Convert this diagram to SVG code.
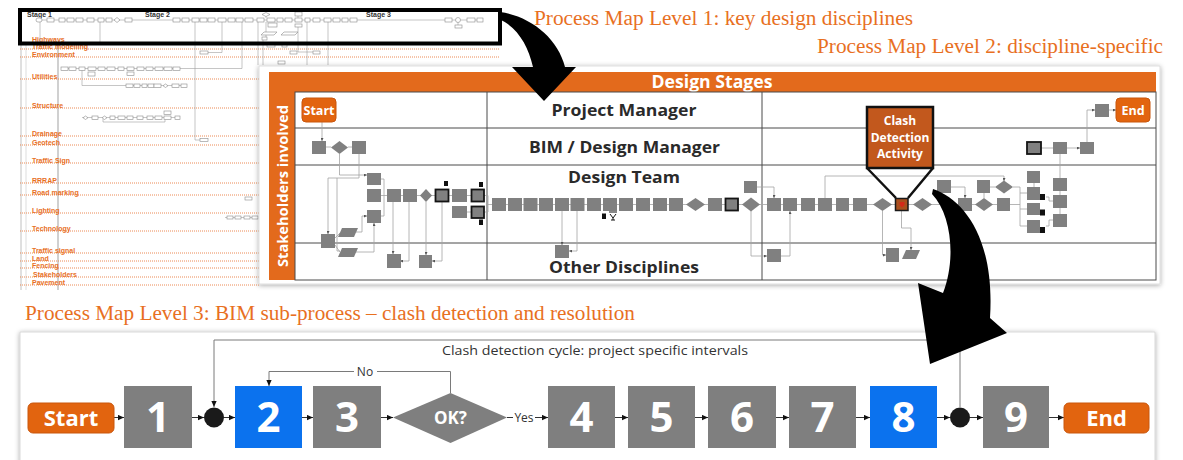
<svg xmlns="http://www.w3.org/2000/svg" width="1183" height="460" viewBox="0 0 1183 460">
<defs>
<style>
.t1 { font-family: "Liberation Serif", serif; fill: #e8701f; font-size: 20.5px; }
.l1lab { font-family: "Liberation Sans", sans-serif; font-weight: bold; font-size: 7px; fill: #e8701f; }
.l1st { font-family: "Liberation Sans", sans-serif; font-weight: bold; font-size: 7px; fill: #333; }
.dl { stroke: #ec8a55; stroke-width: 1; stroke-dasharray: 1 1; fill: none; }
.mb { fill: #fff; stroke: #8a8a8a; stroke-width: 0.6; }
.ml { fill: none; stroke: #a0a0a0; stroke-width: 0.6; }
.lane2 { font-family: "Open Sans", "Noto Sans", sans-serif; font-weight: bold; font-size: 16.5px; fill: #2a2a2a; text-anchor: middle; }
.wb { font-family: "Open Sans", "Noto Sans", sans-serif; font-weight: bold; fill: #fff; text-anchor: middle; }
.g2 { fill: #808080; }
.g2t { fill: #808080; stroke: #141414; stroke-width: 1.8; }
.doc { fill: #111; }
.c2 { fill: none; stroke: #a3a3a3; stroke-width: 0.8; }
.grid { stroke: #4a4a4a; stroke-width: 1; fill: none; }
.g3 { fill: #7f7f7f; }
.b3 { fill: #0b72ee; }
.num { font-family: "Open Sans", "Noto Sans", sans-serif; font-weight: bold; font-size: 42px; fill: #fff; text-anchor: middle; }
.c3 { fill: none; stroke: #333; stroke-width: 1; }
.c3l { fill: none; stroke: #7a7a7a; stroke-width: 1; }
.lbl3 { font-family: "Open Sans", "Noto Sans", sans-serif; font-size: 12px; fill: #333; }
.orn { fill: #e2640f; stroke: #c9560d; stroke-width: 1; }
</style>
<marker id="a2" viewBox="0 0 4 4" refX="4" refY="2" markerWidth="3" markerHeight="3" orient="auto" markerUnits="userSpaceOnUse"><path d="M0,0 L4,2 L0,4 z" fill="#555"/></marker>
<marker id="a3" viewBox="0 0 8 8" refX="8" refY="4" markerWidth="6" markerHeight="6" orient="auto" markerUnits="userSpaceOnUse"><path d="M0,0.5 L8,4 L0,7.5 z" fill="#111"/></marker>
<filter id="sh" x="-3%" y="-8%" width="106%" height="116%"><feDropShadow dx="0" dy="1" stdDeviation="2.5" flood-color="#000" flood-opacity="0.35"/></filter>
</defs>
<rect width="1183" height="460" fill="#fff"/>

<!-- ===== Level 1 map (thumbnail) ===== -->
<g id="level1-map">
  <line x1="21" y1="44" x2="21" y2="290" stroke="#b0b0b0" stroke-width="0.8"/>
  <line x1="26" y1="44" x2="26" y2="290" stroke="#c8c8c8" stroke-width="0.6"/>
  <line x1="58" y1="42" x2="58" y2="290" stroke="#d0d0d0" stroke-width="2"/>
  <g id="l1-lanes">
    <line class="dl" x1="20" y1="49" x2="500" y2="49"/>
    <line class="dl" x1="20" y1="57" x2="500" y2="57"/>
    <line class="dl" x1="20" y1="79" x2="260" y2="79"/>
    <line class="dl" x1="20" y1="108" x2="260" y2="108"/>
    <line class="dl" x1="20" y1="136" x2="260" y2="136"/>
    <line class="dl" x1="20" y1="145" x2="260" y2="145"/>
    <line class="dl" x1="20" y1="163" x2="260" y2="163"/>
    <line class="dl" x1="20" y1="183" x2="260" y2="183"/>
    <line class="dl" x1="20" y1="195" x2="260" y2="195"/>
    <line class="dl" x1="20" y1="213" x2="260" y2="213"/>
    <line class="dl" x1="20" y1="231" x2="260" y2="231"/>
    <line class="dl" x1="20" y1="253" x2="260" y2="253"/>
    <line class="dl" x1="20" y1="261" x2="260" y2="261"/>
    <line class="dl" x1="20" y1="268" x2="260" y2="268"/>
    <line class="dl" x1="20" y1="277" x2="260" y2="277"/>
    <line class="dl" x1="20" y1="285" x2="260" y2="285"/>
  </g>
  <g id="l1-labels">
    <text class="l1lab" x="32" y="41.5">Highways</text>
    <text class="l1lab" x="32" y="48.5">Traffic modelling</text>
    <text class="l1lab" x="32" y="56.5">Environment</text>
    <text class="l1lab" x="32" y="78.5">Utilities</text>
    <text class="l1lab" x="32" y="107.5">Structure</text>
    <text class="l1lab" x="32" y="135.5">Drainage</text>
    <text class="l1lab" x="32" y="144.5">Geotech</text>
    <text class="l1lab" x="32" y="162.5">Traffic Sign</text>
    <text class="l1lab" x="32" y="182.5">RRRAP</text>
    <text class="l1lab" x="32" y="194.5">Road marking</text>
    <text class="l1lab" x="32" y="212.5">Lighting</text>
    <text class="l1lab" x="32" y="230.5">Technology</text>
    <text class="l1lab" x="32" y="252.5">Traffic signal</text>
    <text class="l1lab" x="32" y="260.5">Land</text>
    <text class="l1lab" x="32" y="267.5">Fencing</text>
    <text class="l1lab" x="33" y="276.5">Stakeholders</text>
    <text class="l1lab" x="32" y="284.5">Pavement</text>
    <text class="l1st" x="27" y="16.5">Stage 1</text>
    <text class="l1st" x="145" y="16.5">Stage 2</text>
    <text class="l1st" x="366" y="16.5">Stage 3</text>
  </g>
  <g id="l1-flow">
    <path class="ml" d="M36,20 H480 M40,22 V42 M100,22 V42 M195,22 V140 H200 M222,22 V52.5 H208 M242,22 V68.5 H61 M258,22 V65 M263,40 V65 M298,27 V52 H313 M307,22 V65 M328,22 V65 M266,22 V37 M82,70 V85.5 H187 M82,117.5 H180 M103,119 V122 H165 V119.5 M225,217.5 H258 M266,16 V18 M298,16 V18 M458,22 V25"/>
    <rect class="mb" x="36" y="18" width="6" height="4" rx="2"/>
    <rect class="mb" x="47" y="18" width="7" height="4"/>
    <rect class="mb" x="59" y="18" width="6" height="4"/>
    <rect class="mb" x="67" y="18" width="7" height="4"/>
    <rect class="mb" x="76" y="18" width="7" height="4"/>
    <rect class="mb" x="87" y="18" width="7" height="4"/>
    <rect class="mb" x="98" y="18" width="6" height="4"/>
    <rect class="mb" x="106" y="18" width="6" height="4"/>
    <polygon class="mb" points="114,20 117,17.5 120,20 117,22.5"/>
    <rect class="mb" x="125" y="18" width="7" height="4"/>
    <rect class="mb" x="173" y="18" width="7" height="4"/>
    <rect class="mb" x="182" y="18" width="7" height="4"/>
    <rect class="mb" x="192" y="18" width="7" height="4"/>
    <rect class="mb" x="200" y="18" width="7" height="4"/>
    <rect class="mb" x="208" y="18" width="7" height="4"/>
    <rect class="mb" x="218" y="18" width="8" height="4"/>
    <rect class="mb" x="228" y="18" width="7" height="4"/>
    <rect class="mb" x="236" y="18" width="7" height="4"/>
    <rect class="mb" x="245" y="18" width="8" height="4"/>
    <rect class="mb" x="257" y="18" width="7" height="4"/>
    <rect class="mb" x="267" y="18" width="8" height="4"/>
    <rect class="mb" x="277" y="18" width="6" height="4"/>
    <rect class="mb" x="285" y="18" width="7" height="4"/>
    <rect class="mb" x="295" y="18" width="7" height="4"/>
    <rect class="mb" x="305" y="18" width="5" height="4"/>
    <rect class="mb" x="313" y="18" width="7" height="4"/>
    <rect class="mb" x="324" y="18" width="7" height="4"/>
    <rect class="mb" x="333" y="18" width="7" height="4"/>
    <rect class="mb" x="342" y="18" width="6" height="4"/>
    <rect class="mb" x="350" y="18" width="7" height="4"/>
    <rect class="mb" x="445" y="18" width="7" height="4"/>
    <circle class="mb" cx="458" cy="20" r="2.5"/>
    <rect class="mb" x="467" y="18" width="8" height="4"/>
    <rect class="mb" x="477" y="18" width="6" height="4"/>
    <polygon class="mb" points="262,14.5 266,12.5 270,14.5 266,16.5"/>
    <rect class="mb" x="295" y="12" width="7" height="4"/>
    <rect class="mb" x="295" y="24" width="7" height="3"/>
    <rect class="mb" x="268" y="23" width="9" height="4"/>
    <polygon class="mb" points="261,35 264,32 277,32 274,35"/>
    <polygon class="mb" points="281,35 284,32 298,32 295,35"/>
    <rect class="mb" x="262" y="37" width="5" height="3"/>
    <rect class="mb" x="455" y="25" width="7" height="3"/>
    <rect class="mb" x="267" y="44.5" width="8" height="2.5"/>
    <rect class="mb" x="282" y="44.5" width="5" height="2.5"/>
    <rect class="mb" x="290" y="51" width="7" height="3"/>
    <rect class="mb" x="313" y="51" width="7" height="3"/>
    <rect class="mb" x="278" y="61" width="7" height="3"/>
    <rect class="mb" x="200" y="51" width="8" height="3"/>
    <rect class="mb" x="200" y="138.5" width="8" height="3"/>
    <rect class="mb" x="61" y="67" width="7" height="3.5"/>
    <rect class="mb" x="69" y="67" width="7" height="3.5"/>
    <rect class="mb" x="79" y="67" width="6" height="3.5"/>
    <rect class="mb" x="88" y="67" width="8" height="3.5"/>
    <rect class="mb" x="88" y="72" width="7" height="4"/>
    <rect class="mb" x="98" y="67" width="7" height="3.5"/>
    <rect class="mb" x="107" y="67" width="8" height="3.5"/>
    <rect class="mb" x="118" y="67" width="6" height="3.5"/>
    <rect class="mb" x="127" y="67" width="7" height="3.5"/>
    <rect class="mb" x="127" y="72" width="7" height="3.5"/>
    <rect class="mb" x="137" y="67" width="7" height="3.5"/>
    <rect class="mb" x="146" y="67" width="7" height="3.5"/>
    <rect class="mb" x="155" y="67" width="8" height="3.5"/>
    <rect class="mb" x="164" y="67" width="8" height="3.5"/>
    <rect class="mb" x="173" y="67" width="7" height="3.5"/>
    <rect class="mb" x="126" y="84" width="7" height="3.5"/>
    <rect class="mb" x="134" y="84" width="6" height="3.5"/>
    <rect class="mb" x="142" y="84" width="5" height="3.5"/>
    <rect class="mb" x="148" y="84" width="6" height="3.5"/>
    <rect class="mb" x="154" y="84" width="7" height="3.5"/>
    <polygon class="mb" points="163,85.75 165.5,84 168,85.75 165.5,87.5"/>
    <rect class="mb" x="172" y="84" width="7" height="3.5"/>
    <rect class="mb" x="181" y="84" width="6" height="3.5"/>
    <polygon class="mb" points="83,117.75 85.5,116 88,117.75 85.5,119.5"/>
    <rect class="mb" x="92" y="116" width="6" height="3.5"/>
    <polygon class="mb" points="102,117.75 104.5,116 107,117.75 104.5,119.5"/>
    <rect class="mb" x="110" y="116" width="5" height="3.5"/>
    <rect class="mb" x="118" y="116" width="7" height="3.5"/>
    <rect class="mb" x="127" y="116" width="6" height="3.5"/>
    <rect class="mb" x="137" y="116" width="6" height="3.5"/>
    <rect class="mb" x="147" y="116" width="6" height="3.5"/>
    <rect class="mb" x="155" y="116" width="7" height="3.5"/>
    <rect class="mb" x="164" y="116" width="7" height="3.5"/>
    <rect class="mb" x="164" y="111" width="7" height="3.5"/>
    <rect class="mb" x="175" y="116" width="5" height="3.5"/>
    <rect class="mb" x="245" y="197" width="7" height="3"/>
    <rect class="mb" x="227" y="216" width="6" height="3"/>
    <rect class="mb" x="235" y="216" width="6" height="3"/>
    <rect class="mb" x="244" y="216" width="6" height="3"/>
    <rect class="mb" x="252" y="216" width="6" height="3"/>
  </g>
  <rect id="l1-focus" x="20" y="10" width="480" height="33.5" fill="none" stroke="#000" stroke-width="4"/>
</g>

<!-- ===== Titles ===== -->
<g id="titles">
  <text class="t1" x="534" y="25" textLength="379" lengthAdjust="spacingAndGlyphs">Process Map Level 1: key design disciplines</text>
  <text class="t1" x="817" y="53" textLength="346" lengthAdjust="spacingAndGlyphs">Process Map Level 2: discipline-specific</text>
  <text class="t1" x="25" y="320" textLength="610" lengthAdjust="spacingAndGlyphs">Process Map Level 3: BIM sub-process – clash detection and resolution</text>
</g>

<!-- ===== Level 2 panel ===== -->
<g id="level2-panel">
  <rect x="259" y="66" width="901" height="218" fill="#fff" stroke="#d8d8d8" stroke-width="0.8" filter="url(#sh)"/>
  <rect x="269" y="72" width="887" height="20" fill="#e36a1c"/>
  <text class="wb" x="712" y="88" font-size="17" textLength="121" lengthAdjust="spacingAndGlyphs">Design Stages</text>
  <rect x="269" y="92" width="26" height="188" fill="#e36a1c"/>
  <text class="wb" transform="translate(288,186) rotate(-90)" x="0" y="0" font-size="14.5" textLength="162" lengthAdjust="spacingAndGlyphs">Stakeholders involved</text>
  <g id="l2-grid">
    <rect class="grid" x="295" y="92" width="861" height="188"/>
    <line class="grid" x1="295" y1="128" x2="1156" y2="128"/>
    <line class="grid" x1="295" y1="165" x2="1156" y2="165"/>
    <line class="grid" x1="295" y1="243" x2="1156" y2="243"/>
    <line class="grid" x1="487" y1="92" x2="487" y2="280"/>
    <line class="grid" x1="762" y1="92" x2="762" y2="280"/>
  </g>
  <text class="lane2" x="624" y="116" textLength="145" lengthAdjust="spacingAndGlyphs">Project Manager</text>
  <text class="lane2" x="624.5" y="153" textLength="191" lengthAdjust="spacingAndGlyphs">BIM / Design Manager</text>
  <text class="lane2" x="624" y="183" textLength="112" lengthAdjust="spacingAndGlyphs">Design Team</text>
  <text class="lane2" x="624" y="273" textLength="150" lengthAdjust="spacingAndGlyphs">Other Disciplines</text>
</g>

<!-- ===== Level 3 panel ===== -->
<rect id="level3-panel" x="20" y="332" width="1135" height="140" fill="#fff" stroke="#d0d0d0" stroke-width="0.8" filter="url(#sh)"/>

<!-- ===== Connectors ===== -->
<g id="connectors">
  <g id="l2-connectors">
    <path class="c2" d="M322,122 V141" marker-end="url(#a2)"/>
    <path class="c2" d="M326,147 H331 M348,147 H352"/>
    <path class="c2" d="M339.5,154 V175 H367" marker-end="url(#a2)"/>
    <path class="c2" d="M359,154 V178 H328 V234" marker-end="url(#a2)"/>
    <path class="c2" d="M337,178 V251 H340"/>
    <path class="c2" d="M335,238 L340,233 M335,245 L340,252"/>
    <path class="c2" d="M356,232 H362 V216 H367" marker-end="url(#a2)"/>
    <path class="c2" d="M355,252 H374 V223" marker-end="url(#a2)"/>
    <path class="c2" d="M381,179 H384 V195.5 M381,216 H384 V195.5"/>
    <path class="c2" d="M381,195.5 H471"/>
    <path class="c2" d="M467,212 H471"/>
    <path class="c2" d="M484,195.5 H488 V204.5 H492 M484,212 H488 V204.5"/>
    <path class="c2" d="M393,202 V254" marker-end="url(#a2)"/>
    <path class="c2" d="M409,202 V261 H400" marker-end="url(#a2)"/>
    <path class="c2" d="M426,202 V255" marker-end="url(#a2)"/>
    <path class="c2" d="M442,202 V261 H432" marker-end="url(#a2)"/>
    <path class="c2" d="M506,204.5 H1010"/>
    <path class="c2" d="M562,211 V245" marker-end="url(#a2)"/>
    <path class="c2" d="M577,211 V251 H569" marker-end="url(#a2)"/>
    <path class="c2" d="M757,187 H774 V198" marker-end="url(#a2)"/>
    <path class="c2" d="M751,211 V256 H767" marker-end="url(#a2)"/>
    <path class="c2" d="M781,256 H790 V211" marker-end="url(#a2)"/>
    <path class="c2" d="M825,198 V176 H1004 V181" marker-end="url(#a2)"/>
    <path class="c2" d="M882.5,211 V255 H886" marker-end="url(#a2)"/>
    <path class="c2" d="M901.5,211 V228 H911 V250" marker-end="url(#a2)"/>
    <path class="c2" d="M951,187 H965 V198" marker-end="url(#a2)"/>
    <path class="c2" d="M984,198 V193 M990,187 H995"/>
    <path class="c2" d="M1013,187 H1020 V226 H1027 M1020,193 H1027 M1020,209 H1027 M1010,204.5 H1020"/>
    <path class="c2" d="M1034,183 V187"/>
    <path class="c2" d="M1046,226 H1049 V220 H1053 M1046,197 H1049 V201 H1053"/>
    <path class="c2" d="M1060,154 V178 M1060,191 V195 M1060,208 V214"/>
    <path class="c2" d="M1041,148 H1053 M1067,148 H1080" marker-end="url(#a2)"/>
    <path class="c2" d="M1087,142 V110 H1095" marker-end="url(#a2)"/>
    <path class="c2" d="M1109,110 H1116" marker-end="url(#a2)"/>
  </g>
  <g id="l3-connectors">
    <path class="c3" d="M114,417.5 H124" marker-end="url(#a3)"/>
    <path class="c3" d="M192,417.5 H204" marker-end="url(#a3)"/>
    <path class="c3" d="M224,417.5 H235" marker-end="url(#a3)"/>
    <path class="c3" d="M302,417.5 H313" marker-end="url(#a3)"/>
    <path class="c3" d="M381,417.5 H393" marker-end="url(#a3)"/>
    <path class="c3" d="M507,417.5 H513"/>
    <path class="c3" d="M535,417.5 H548" marker-end="url(#a3)"/>
    <path class="c3" d="M615,417.5 H628" marker-end="url(#a3)"/>
    <path class="c3" d="M695,417.5 H708" marker-end="url(#a3)"/>
    <path class="c3" d="M776,417.5 H789" marker-end="url(#a3)"/>
    <path class="c3" d="M856,417.5 H870" marker-end="url(#a3)"/>
    <path class="c3" d="M937,417.5 H950" marker-end="url(#a3)"/>
    <path class="c3" d="M970,417.5 H983" marker-end="url(#a3)"/>
    <path class="c3" d="M1049,417.5 H1064" marker-end="url(#a3)"/>
    <path class="c3l" d="M960,407 V340 H214 V407" marker-end="url(#a3)"/>
    <path class="c3l" d="M450.5,393 V371.5 H377 M354,371.5 H269 V386" marker-end="url(#a3)"/>
  </g>
</g>

<!-- ===== Level 2 nodes ===== -->
<g id="l2-nodes">
  <g id="l2-start"><rect class="orn" x="302" y="98" width="34" height="24" rx="4"/><text class="wb" x="319" y="114.5" font-size="12.5">Start</text></g>
  <g id="l2-end"><rect class="orn" x="1116" y="98" width="34" height="24" rx="4"/><text class="wb" x="1133" y="114.5" font-size="12.5">End</text></g>
  <g id="l2-bim">
    <rect class="g2" x="312" y="141" width="14" height="13"/>
    <polygon class="g2" points="331,147.5 339.5,141 348,147.5 339.5,154"/>
    <rect class="g2" x="352" y="141" width="14" height="13"/>
    <rect class="g2t" x="1027" y="142" width="14" height="12"/>
    <rect class="g2" x="1053" y="142" width="14" height="12"/>
    <rect class="g2" x="1080" y="142" width="14" height="12"/>
  </g>
  <g id="l2-pm"><rect class="g2" x="1095" y="104" width="14" height="13"/></g>
  <g id="l2-design-team">
    <rect class="g2" x="367" y="173" width="14" height="12"/>
    <rect class="g2" x="367" y="189" width="14" height="13"/>
    <rect class="g2" x="367" y="210" width="14" height="13"/>
    <rect class="g2" x="321" y="234" width="14" height="14"/>
    <polygon class="g2" points="338,237 342,228 358,228 354,237"/>
    <polygon class="g2" points="338,257 342,248 358,248 354,257"/>
    <rect class="g2" x="387" y="189" width="14" height="13"/>
    <rect class="g2" x="403" y="189" width="14" height="13"/>
    <polygon class="g2" points="420,195.5 426,189 432,195.5 426,202"/>
    <rect class="g2t" x="435.5" y="189.5" width="13" height="12"/>
    <rect class="doc" x="444" y="181" width="4" height="5"/>
    <rect class="g2" x="452" y="189" width="15" height="13"/>
    <rect class="g2t" x="471.5" y="189.5" width="12.5" height="12"/>
    <rect class="doc" x="479" y="182" width="4" height="5"/>
    <rect class="g2" x="452" y="206" width="15" height="12"/>
    <rect class="g2t" x="471.5" y="206.5" width="12.5" height="11.5"/>
    <rect class="doc" x="479" y="219.5" width="4" height="5.5"/>
    <rect class="g2" x="492" y="198" width="14" height="13"/>
    <rect class="g2" x="508" y="198" width="14" height="13"/>
    <rect class="g2" x="523.5" y="198" width="14" height="13"/>
    <rect class="g2" x="539" y="198" width="14" height="13"/>
    <rect class="g2" x="555" y="198" width="14" height="13"/>
    <rect class="g2" x="570.5" y="198" width="14" height="13"/>
    <rect class="g2" x="587" y="198" width="14" height="13"/>
    <rect class="g2" x="603" y="198" width="14" height="13"/>
    <rect class="doc" x="602" y="213.5" width="4" height="5.5"/>
    <path d="M609,212 H617 M610,214 L613,218 L616,214 M613,218 V220 M611,220 H615" stroke="#111" stroke-width="1" fill="none"/>
    <rect class="g2" x="619" y="198" width="14" height="13"/>
    <rect class="g2" x="636" y="198" width="14" height="13"/>
    <rect class="g2" x="653" y="198" width="14" height="13"/>
    <rect class="g2" x="669" y="198" width="14" height="13"/>
    <polygon class="g2" points="686,204.5 695.5,198 705,204.5 695.5,211"/>
    <rect class="g2" x="708" y="198" width="14" height="13"/>
    <rect class="g2t" x="725.5" y="198.5" width="12.5" height="12"/>
    <polygon class="g2" points="742,204.5 751,197.5 760,204.5 751,211.5"/>
    <rect class="g2" x="744" y="181" width="13" height="12"/>
    <rect class="g2" x="767" y="198" width="14" height="13"/>
    <rect class="g2" x="783" y="198" width="14" height="13"/>
    <rect class="g2" x="801" y="198" width="14" height="13"/>
    <rect class="g2" x="818" y="198" width="14" height="13"/>
    <rect class="g2" x="836" y="198" width="13" height="13"/>
    <rect class="g2" x="853" y="198" width="14" height="13"/>
    <polygon class="g2" points="873,204.5 882.5,198 892,204.5 882.5,211"/>
    <polygon class="g2" points="913,204.5 922.5,198 932,204.5 922.5,211"/>
    <rect class="g2" x="937" y="180" width="14" height="13"/>
    <rect class="g2" x="958" y="198" width="14" height="13"/>
    <polygon class="g2" points="975,204.5 984,198 993,204.5 984,211"/>
    <rect class="g2" x="977" y="180" width="13" height="13"/>
    <polygon class="g2" points="995,187 1004,180.5 1013,187 1004,193.5"/>
    <rect class="g2" x="997" y="198" width="13" height="13"/>
    <rect class="g2" x="1027" y="171" width="13" height="12"/>
    <rect class="g2" x="1027" y="187" width="13" height="13"/>
    <rect class="doc" x="1040" y="194" width="5" height="6"/>
    <rect class="g2" x="1027" y="203" width="13" height="12"/>
    <rect class="doc" x="1040" y="209.5" width="5" height="6"/>
    <rect class="g2" x="1027" y="220" width="13" height="13"/>
    <rect class="doc" x="1040" y="227" width="5" height="6"/>
    <rect class="g2" x="1053" y="178" width="14" height="13"/>
    <rect class="g2" x="1053" y="195" width="14" height="13"/>
    <rect class="g2" x="1053" y="214" width="14" height="13"/>
  </g>
  <g id="l2-other">
    <rect class="g2" x="387" y="254" width="14" height="14"/>
    <rect class="g2" x="419" y="255" width="13" height="13"/>
    <rect class="g2" x="555" y="245" width="14" height="13"/>
    <rect class="g2" x="767" y="249" width="14" height="13"/>
    <rect class="g2" x="886" y="248" width="13" height="14"/>
    <polygon class="g2" points="902,259 906,250 920,250 916,259"/>
  </g>
  <g id="l2-clash-box">
    <rect x="895.5" y="198.5" width="12.5" height="12" fill="#a9501e" stroke="#1a1a1a" stroke-width="1.5"/>
    <path d="M899.5,202 H904.5 V205 L902,207.5 L899.5,205 Z" fill="#d42a1a"/>
  </g>
  <g id="l2-clash-callout">
    <path d="M867,168 L896,198 M933,168 L908,198" stroke="#111" stroke-width="2.5" fill="none"/>
    <rect x="867" y="107" width="66" height="61" fill="#c2581d" stroke="#111" stroke-width="2.5"/>
    <text class="wb" x="900" y="124.5" font-size="12">Clash</text>
    <text class="wb" x="900" y="141.5" font-size="12">Detection</text>
    <text class="wb" x="900" y="157.5" font-size="12">Activity</text>
  </g>
</g>

<!-- ===== Level 3 nodes ===== -->
<g id="l3-nodes">
  <g id="l3-start"><rect class="orn" x="28" y="403" width="86" height="30" rx="5"/><text class="wb" x="71" y="426" font-size="22">Start</text></g>
  <g id="l3-1"><rect class="g3" x="124" y="386" width="68" height="62"/><text class="num" x="158" y="432">1</text></g>
  <g id="l3-j1"><circle cx="214" cy="417.5" r="10" fill="#1a1a1a"/></g>
  <g id="l3-2"><rect class="b3" x="235" y="386" width="67" height="62"/><text class="num" x="268.5" y="432">2</text></g>
  <g id="l3-3"><rect class="g3" x="313" y="386" width="68" height="62"/><text class="num" x="347" y="432">3</text></g>
  <g id="l3-ok"><polygon class="g3" points="393,417.5 450.5,393 507,417.5 450.5,443"/><text class="wb" x="450.5" y="424" font-size="17">OK?</text></g>
  <g id="l3-4"><rect class="g3" x="548" y="386" width="67" height="62"/><text class="num" x="581.5" y="432">4</text></g>
  <g id="l3-5"><rect class="g3" x="628" y="386" width="67" height="62"/><text class="num" x="661.5" y="432">5</text></g>
  <g id="l3-6"><rect class="g3" x="708" y="386" width="68" height="62"/><text class="num" x="742" y="432">6</text></g>
  <g id="l3-7"><rect class="g3" x="789" y="386" width="67" height="62"/><text class="num" x="822.5" y="432">7</text></g>
  <g id="l3-8"><rect class="b3" x="870" y="386" width="67" height="62"/><text class="num" x="903.5" y="432">8</text></g>
  <g id="l3-j2"><circle cx="960" cy="417.5" r="10" fill="#1a1a1a"/></g>
  <g id="l3-9"><rect class="g3" x="983" y="386" width="66" height="62"/><text class="num" x="1016" y="432">9</text></g>
  <g id="l3-end"><rect class="orn" x="1064" y="403" width="85" height="30" rx="5"/><text class="wb" x="1106.5" y="426" font-size="22">End</text></g>
  <text class="lbl3" x="595" y="355" font-size="13.5" text-anchor="middle" textLength="306" lengthAdjust="spacingAndGlyphs">Clash detection cycle: project specific intervals</text>
  <text class="lbl3" x="365" y="375.5" text-anchor="middle">No</text>
  <text class="lbl3" x="524" y="421.5" text-anchor="middle">Yes</text>
</g>

<!-- ===== Big zoom arrows ===== -->
<g id="zoom-arrows">
  <path d="M500,12 C530,16 558,38 565,67 L576,67 L544,101 L512,67 L533,67 C528,45 517,27 499,19 Z" fill="#000"/>
  <path d="M933,189 C965,200 995,240 990,318 L1007,333 L930,364 L918,283 L943,293 C956,260 952,215 932,194 Z" fill="#000"/>
</g>
</svg>
